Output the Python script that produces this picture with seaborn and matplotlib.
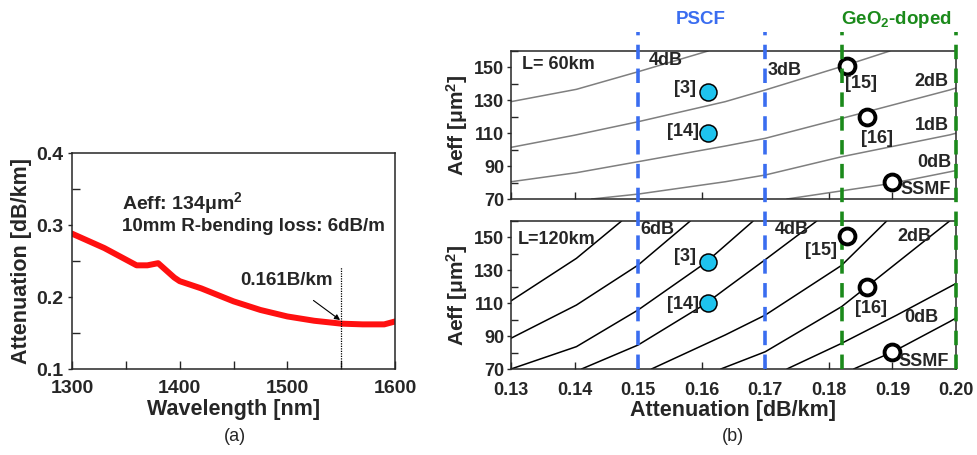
import matplotlib
matplotlib.use("Agg")
import matplotlib.pyplot as plt
import matplotlib.transforms as mtransforms
from matplotlib.ticker import MultipleLocator
import seaborn as sns

# (a) spectral attenuation of the fibre
wavelength = [1300, 1330, 1350, 1360, 1370, 1380, 1395, 1400, 1420, 1450,
              1475, 1500, 1525, 1550, 1570, 1590, 1600]
attenuation = [0.288, 0.268, 0.252, 0.244, 0.244, 0.247, 0.227, 0.222, 0.212, 0.194,
               0.182, 0.173, 0.167, 0.163, 0.162, 0.162, 0.166]

# (b) fibres
fiber_names = ['[3]', '[14]', '[15]', '[16]', 'SSMF']
fiber_atten = [0.161, 0.161, 0.1828, 0.186, 0.190]
fiber_aeff = [135, 110, 151, 120, 80.5]
fiber_filled = [True, True, False, False, False]

# iso-margin lines, L = 60 km (grey)
l60_atten = [
    [0.13, 0.1403, 0.15, 0.161],
    [0.13, 0.14, 0.15, 0.1637, 0.17, 0.1828, 0.1896],
    [0.13, 0.1403, 0.15, 0.1637, 0.17, 0.182, 0.199, 0.20],
    [0.1427, 0.15, 0.1637, 0.17, 0.182, 0.199, 0.20],
    [0.1734, 0.1899, 0.20],
]
l60_aeff = [
    [129.2, 136.7, 147.4, 160],
    [101.4, 108.8, 117, 129.2, 136.3, 151.5, 160],
    [80.5, 86, 92.7, 102.2, 106.9, 119, 136.3, 137.5],
    [70, 73, 80.5, 84.6, 95.7, 109, 110],
    [70, 79.5, 87.3],
]
l60_labels = ['4dB', '3dB', '2dB', '1dB', '0dB']
l60_lab_x = [0.1543, 0.1731, 0.1961, 0.1962, 0.1966]
l60_lab_y = [154, 148, 141.5, 114.5, 92]

# iso-margin lines, L = 120 km (black)
l120_atten = [
    [0.13, 0.1403, 0.1474],
    [0.13, 0.1403, 0.15, 0.1582],
    [0.13, 0.1403, 0.15, 0.1605, 0.1681],
    [0.1411, 0.15, 0.1605, 0.1637, 0.17, 0.1781],
    [0.1521, 0.1637, 0.17, 0.182, 0.1891],
    [0.163, 0.17, 0.182, 0.186, 0.199],
    [0.1734, 0.182, 0.1907, 0.20],
    [0.1839, 0.1901, 0.199, 0.20],
]
l120_aeff = [
    [111.4, 137.3, 160],
    [88.7, 108.9, 133.2, 160],
    [70, 83.6, 105.9, 134.3, 160],
    [70, 84.6, 109.4, 118.6, 136.5, 160],
    [70, 90.7, 102.8, 133, 160],
    [70, 80.5, 107.9, 120.1, 160],
    [70, 85.6, 102.8, 122],
    [70, 80.5, 98.8, 101],
]
l120_labels = ['6dB', '4dB', '2dB', '0dB']
l120_lab_x = [0.153, 0.1741, 0.1935, 0.1946]
l120_lab_y = [155, 154.6, 150.8, 101.6]

pscf_bounds = [0.15, 0.17]
geo_bounds = [0.182, 0.20]

sns.set_style("ticks")
plt.rcParams['font.family'] = ['Liberation Sans', 'DejaVu Sans']
plt.rcParams['font.weight'] = 'bold'
plt.rcParams['mathtext.fontset'] = 'custom'
plt.rcParams['mathtext.bf'] = 'Liberation Sans:bold'
plt.rcParams['mathtext.rm'] = 'Liberation Sans:bold'
plt.rcParams['mathtext.default'] = 'bf'
plt.rcParams['axes.linewidth'] = 1.1

fig = plt.figure(figsize=(9.77, 4.55), dpi=100)

# ---------- (a) ----------
ax1 = fig.add_axes([0.0737, 0.189, 0.3306, 0.4747])
sns.lineplot(x=wavelength, y=attenuation, ax=ax1, color='#ff1010', lw=4.3)
ax1.plot([1550, 1550], [0.1, 0.241], color='black', lw=0.9, ls=(0, (1, 1)))
ax1.annotate('0.161B/km', xy=(1549, 0.168), xytext=(1499, 0.223),
             ha='center', va='center', fontsize=13.5, fontweight='bold',
             arrowprops=dict(arrowstyle='-|>', color='black', lw=0.8,
                             shrinkA=10, shrinkB=0, mutation_scale=8))
ax1.text(1346, 0.331, 'Aeff: 134μm$^2$', fontsize=14, va='center')
ax1.text(1346, 0.298, '10mm R-bending loss: 6dB/m', fontsize=13.5, va='center')
ax1.set_xlim(1300, 1600)
ax1.set_ylim(0.1, 0.4)
ax1.xaxis.set_major_locator(MultipleLocator(100))
ax1.xaxis.set_minor_locator(MultipleLocator(50))
ax1.yaxis.set_major_locator(MultipleLocator(0.1))
ax1.yaxis.set_minor_locator(MultipleLocator(0.05))
ax1.set_yticks([0.1, 0.2, 0.3, 0.4], ['0.1', '0.2', '0.3', '0.4'])
ax1.tick_params(axis='x', which='both', direction='in', length=6, width=1, labelsize=14, pad=8)
ax1.tick_params(axis='y', which='major', direction='out', length=3, width=1, labelsize=14)
ax1.tick_params(axis='y', which='minor', direction='in', length=6, width=1)
ax1.set_xlabel('Wavelength [nm]', fontsize=15.5, fontweight='bold', labelpad=1)
ax1.set_ylabel('Attenuation [dB/km]', fontsize=15.5, fontweight='bold', labelpad=3)
for s in ax1.spines.values():
    s.set_visible(True)

# ---------- (b) ----------
ax_top = fig.add_axes([0.523, 0.5626, 0.4555, 0.3253])
ax_bot = fig.add_axes([0.523, 0.189, 0.4555, 0.3253])

for xs, ys in zip(l60_atten, l60_aeff):
    sns.lineplot(x=xs, y=ys, ax=ax_top, color='#7f7f7f', lw=1.1, sort=False, estimator=None)
for xs, ys in zip(l120_atten, l120_aeff):
    sns.lineplot(x=xs, y=ys, ax=ax_bot, color='black', lw=1.1, sort=False, estimator=None)

for t, x, y in zip(l60_labels, l60_lab_x, l60_lab_y):
    ax_top.text(x, y, t, fontsize=13, ha='center', va='center')
for t, x, y in zip(l120_labels, l120_lab_x, l120_lab_y):
    ax_bot.text(x, y, t, fontsize=13, ha='center', va='center')

ax_top.text(0.1317, 152, 'L= 60km', fontsize=13, va='center')
ax_bot.text(0.1311, 149, 'L=120km', fontsize=13, va='center')

filled_x = [x for x, f in zip(fiber_atten, fiber_filled) if f]
filled_y = [y for y, f in zip(fiber_aeff, fiber_filled) if f]
open_x = [x for x, f in zip(fiber_atten, fiber_filled) if not f]
open_y = [y for y, f in zip(fiber_aeff, fiber_filled) if not f]

# label offsets (in data units) for each fibre, per panel
top_offsets = [(-0.0037, 2), (-0.004, 1), (0.0022, -11), (0.0015, -13), (0.0053, -4.5)]
bot_offsets = [(-0.0037, 3.5), (-0.004, -0.5), (-0.004, -9), (0.0006, -13), (0.0049, -6)]

for ax, offs in ((ax_top, top_offsets), (ax_bot, bot_offsets)):
    sns.scatterplot(x=filled_x, y=filled_y, ax=ax, s=150, color='#1ec3ee',
                    edgecolor='black', linewidth=1.1, zorder=6)
    sns.scatterplot(x=open_x, y=open_y, ax=ax, s=130, color='white',
                    edgecolor='black', linewidth=2.8, zorder=6)
    for name, x, y, (dx, dy) in zip(fiber_names, fiber_atten, fiber_aeff, offs):
        ax.text(x + dx, y + dy, name, fontsize=13, ha='center', va='center', zorder=7)

for ax in (ax_top, ax_bot):
    ax.set_xlim(0.13, 0.20)
    ax.set_ylim(70, 160)
    ax.xaxis.set_major_locator(MultipleLocator(0.01))
    ax.set_yticks([70, 90, 110, 130, 150])
    ax.yaxis.set_minor_locator(MultipleLocator(10))
    ax.tick_params(axis='x', which='major', direction='in', length=5, width=1, labelsize=13, pad=9)
    ax.tick_params(axis='y', which='major', direction='out', length=3, width=1, labelsize=13, pad=2)
    ax.tick_params(axis='y', which='minor', direction='in', length=5, width=1)
    ax.set_ylabel('Aeff [μm$^2$]', fontsize=15, fontweight='bold', labelpad=3)
    for s in ax.spines.values():
        s.set_visible(True)

ax_top.tick_params(axis='x', labelbottom=False)
ax_bot.set_xticks([0.13, 0.14, 0.15, 0.16, 0.17, 0.18, 0.19, 0.20],
                  ['0.13', '0.14', '0.15', '0.16', '0.17', '0.18', '0.19', '0.20'])
ax_bot.set_xlabel('Attenuation [dB/km]', fontsize=15.5, fontweight='bold', labelpad=1)

# region boundaries spanning both panels
trans = mtransforms.blended_transform_factory(ax_bot.transData, fig.transFigure)
for x in pscf_bounds:
    ax_bot.plot([x, x], [0.189, 0.93], transform=trans, clip_on=False,
                color='#3a6df0', lw=2.6, ls=(0, (4, 2.6)), zorder=5)
for x in geo_bounds:
    ax_bot.plot([x, x], [0.189, 0.93], transform=trans, clip_on=False,
                color='#1b8a1b', lw=2.6, ls=(0, (4, 2.6)), zorder=5)

ax_bot.text(sum(pscf_bounds) / 2 - 0.0001, 0.958, 'PSCF', transform=trans,
            color='#3a6df0', fontsize=13.5, ha='center', va='center')
ax_bot.text(0.1906, 0.958, 'GeO$_2$-doped', transform=trans,
            color='#1b8a1b', fontsize=13.5, ha='center', va='center')

fig.text(0.2405, 0.04, '(a)', fontsize=13, fontweight='normal', ha='center', va='center')
fig.text(0.750, 0.04, '(b)', fontsize=13, fontweight='normal', ha='center', va='center')

fig.savefig('out.png', dpi=100)
